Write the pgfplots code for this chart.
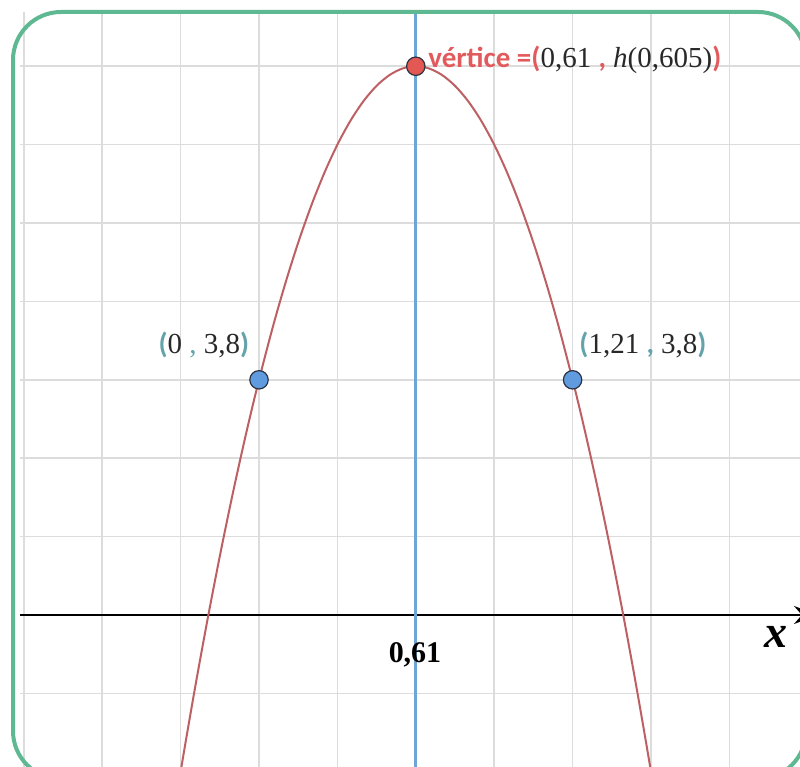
\documentclass[border=0pt]{standalone}
\usepackage{pgfplots}
\pgfplotsset{compat=1.18}
\usepackage{fontspec}
\setmainfont{Liberation Serif}
\newfontfamily\labelsans{Carlito}
\usetikzlibrary{arrows.meta}

\definecolor{framegreen}{RGB}{94,184,146}
\definecolor{gridgray}{RGB}{220,220,220}
\definecolor{symblue}{RGB}{110,165,215}
\definecolor{curvered}{RGB}{188,96,100}
\definecolor{ptblue}{RGB}{95,155,222}
\definecolor{ptred}{RGB}{228,88,84}
\definecolor{ptedge}{RGB}{45,50,65}
\definecolor{tealp}{RGB}{100,162,172}
\definecolor{redtxt}{RGB}{226,90,92}
\definecolor{numgray}{RGB}{40,40,40}

\begin{document}
\begin{tikzpicture}[x=0.5pt,y=0.5pt]
\useasboundingbox (0pt,0pt) rectangle (400pt,383.5pt);
\clip (0pt,0pt) rectangle (400pt,383.5pt);
\begin{axis}[
  at={(10pt,0pt)}, anchor=south west,
  scale only axis, width=390pt, height=377.5pt,
  xmin=-0.9222, xmax=2.0874, ymin=-2.456, ymax=9.743,
  xtick={-0.9075,-0.605,-0.3025,0,0.3025,0.605,0.9075,1.21,1.5125,1.815},
  ytick={-1.2667,0,1.2667,2.5333,3.8,5.0667,6.3333,7.6,8.8667},
  xticklabels={}, yticklabels={}, major tick length=0pt,
  grid=major, grid style={line width=0.8pt, color=gridgray},
  axis line style={draw=none},
  clip=true,
]
% horizontal axis with arrow (tip runs past the visible edge)
\draw[line width=1pt, black, -{Stealth[length=12pt,width=9pt]}]
  (axis cs:-0.9222,0) -- (axis cs:2.157,0);
% tick under the axis at the vertex abscissa
\draw[line width=1pt, black] (axis cs:0.605,0) -- ++(0pt,-6.5pt);
% axis of symmetry
\addplot[symblue, line width=1.6pt] coordinates {(0.605,-3) (0.605,10.5)};
% trajectory h(t)
\addplot[curvered, line width=1pt, smooth] coordinates {
  (-0.345,-3.6257) (-0.295,-2.3453) (-0.245,-1.1341) (-0.195,0.0078)
  (-0.145,1.0806) (-0.095,2.0841) (-0.045,3.0185) (0,3.8)
  (0.055,4.6795) (0.105,5.4062) (0.155,6.0637) (0.205,6.6520)
  (0.255,7.1711) (0.305,7.6209) (0.355,8.0016) (0.405,8.3130)
  (0.455,8.5553) (0.505,8.7283) (0.555,8.8321) (0.605,8.8667)
  (0.655,8.8321) (0.705,8.7283) (0.755,8.5553) (0.805,8.3130)
  (0.855,8.0016) (0.905,7.6209) (0.955,7.1711) (1.005,6.6520)
  (1.055,6.0637) (1.105,5.4062) (1.155,4.6795) (1.21,3.8)
  (1.255,3.0185) (1.305,2.0841) (1.355,1.0806) (1.405,0.0078)
  (1.455,-1.1341) (1.505,-2.3453) (1.555,-3.6257)
};
% points at height 3.8
\addplot[only marks, mark=*, mark size=4.6pt,
  mark options={fill=ptblue, draw=ptedge, line width=0.6pt}]
  coordinates {(0,3.8) (1.21,3.8)};
% vertex
\addplot[only marks, mark=*, mark size=4.6pt,
  mark options={fill=ptred, draw=ptedge, line width=0.6pt}]
  coordinates {(0.605,8.8667)};
\end{axis}

% labels
\node[text=numgray, font=\fontsize{14.5}{17}\selectfont] at (102pt,211pt)
  {\textcolor{tealp}{\labelsans\bfseries(}0 \textcolor{tealp}{,} 3,8\textcolor{tealp}{\labelsans\bfseries)}};
\node[text=numgray, font=\fontsize{14.5}{17}\selectfont] at (321.5pt,211pt)
  {\textcolor{tealp}{\labelsans\bfseries(}1,21 \textcolor{tealp}{\labelsans\bfseries,} 3,8\textcolor{tealp}{\labelsans\bfseries)}};
\node[anchor=west, inner sep=0pt, text=numgray, font=\fontsize{14.5}{17}\selectfont] at (214pt,353.5pt)
  {\textcolor{redtxt}{\labelsans\bfseries v\'ertice =(}0,61 \textcolor{redtxt}{\labelsans\bfseries,} \textit{h}(0,605)\textcolor{redtxt}{\labelsans\bfseries)}};
\node[text=black, font=\fontsize{15}{18}\selectfont\bfseries] at (207.5pt,56pt) {0,61};
\node[text=black, font=\fontsize{23}{26}\selectfont\bfseries\itshape] at (388pt,65pt) {x};

% rounded frame
\draw[framegreen, line width=2pt, rounded corners=24pt] (6.5pt,-6pt) rectangle (403pt,377.5pt);
\end{tikzpicture}
\end{document}
